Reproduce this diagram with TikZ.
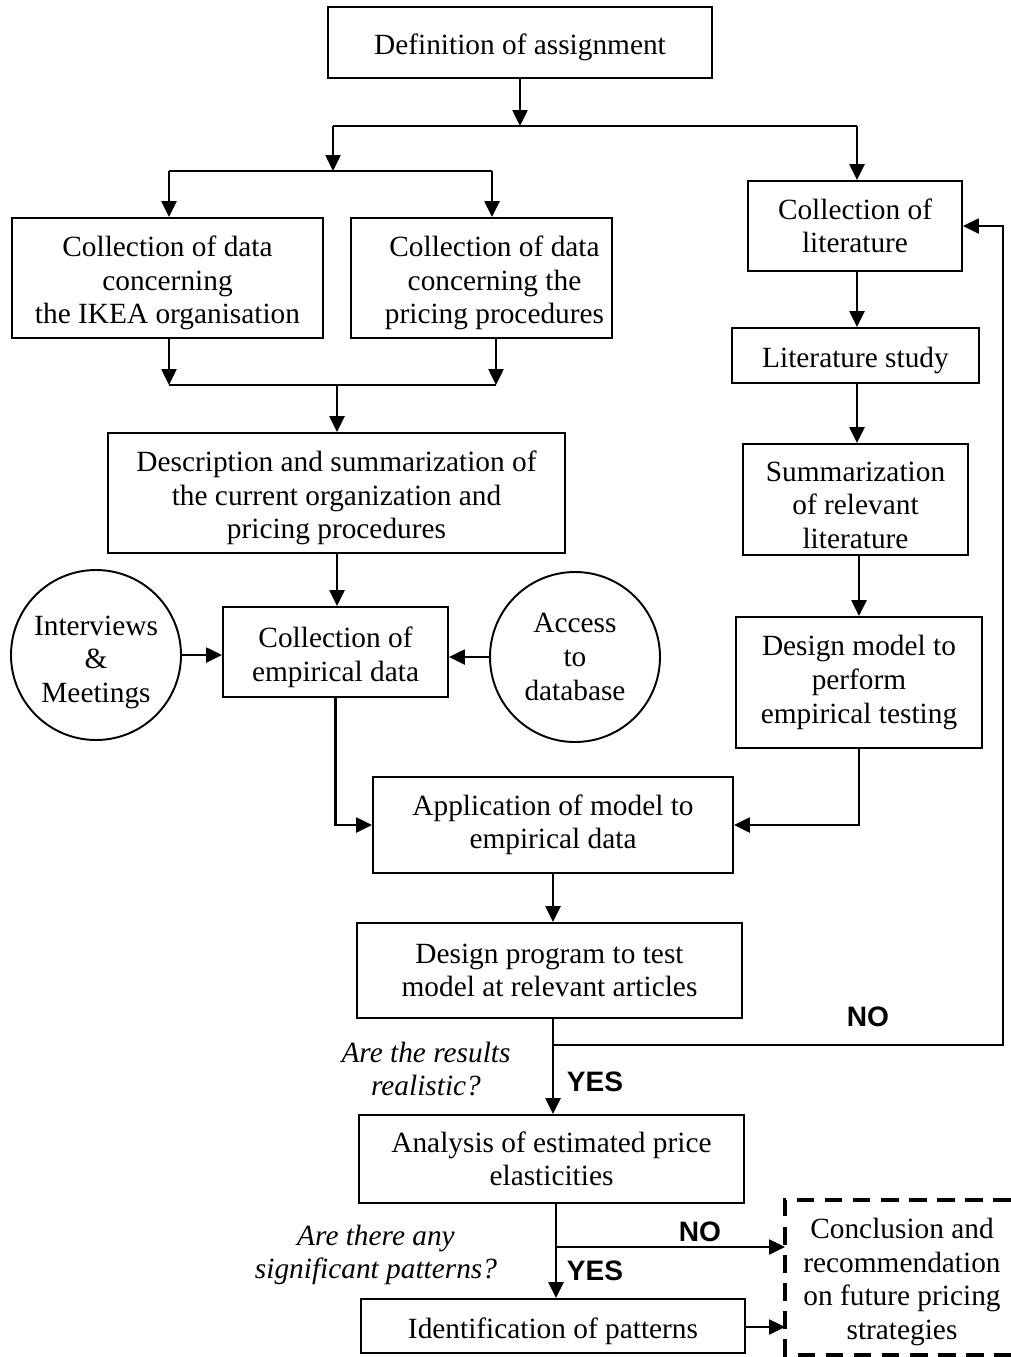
\documentclass[tikz,border=0pt]{standalone}
\usepackage{fontspec}
\setmainfont{Liberation Serif}
\newfontfamily\lsans{Liberation Sans}
\usetikzlibrary{arrows.meta}
\newcommand\tp{\rule{0pt}{17.5pt}}
\newcommand\psh{\hspace*{0.52cm}}
\begin{document}
\begin{tikzpicture}[x=0.02cm,y=-0.02cm,
  every node/.style={font=\fontsize{16.7}{19.1}\selectfont},
  bx/.style 2 args={draw, line width=1.1pt, rectangle, inner sep=0pt,
    minimum width=#1*0.02cm, minimum height=#2*0.02cm, align=center},
  circ/.style={draw, line width=1.1pt, circle, inner sep=0pt,
    minimum size=170*0.02cm, align=center},
  ln/.style={line width=1.2pt},
  arr/.style={line width=1.2pt, -{Triangle[length=9pt,width=8.5pt]}},
  dbox/.style={line width=2pt, dash pattern=on 10pt off 6pt},
  lab/.style={font=\lsans\bfseries\fontsize{16}{19}\selectfont, inner sep=0pt},
  q/.style={font=\itshape\fontsize{16.7}{19.1}\selectfont, align=center, inner sep=0pt}]
\useasboundingbox (0,0) rectangle (1011,1357);

% boxes
\node[bx={384}{71}] (def) at (520,42.5) {\tp Definition of assignment};
\node[bx={311}{120}] (ikea) at (167.5,278) {\tp Collection of data\\concerning\\the IKEA organisation};
\node[bx={261}{120}] (pric) at (481.5,278) {\tp\psh Collection of data\\\psh concerning the\\\psh pricing procedures};
\node[bx={214}{90}] (lit) at (855,226) {Collection of\\literature};
\node[bx={247}{55}] (litst) at (855.5,355.5) {\tp Literature study};
\node[bx={225}{111}] (summ) at (855.5,499.5) {\tp Summarization\\of relevant\\literature};
\node[bx={246}{131}] (dmod) at (859,682.5) {Design model to\\perform\\empirical testing};
\node[bx={457}{120}] (desc) at (336.5,493) {\tp Description and summarization of\\the current organization and\\pricing procedures};
\node[bx={225}{90}] (emp) at (335.5,652) {\tp Collection of\\empirical data};
\node[circ] (intv) at (96,655) {\rule{0pt}{19.5pt}Interviews\\\&\\Meetings};
\node[circ] (acc) at (575,657) {Access\\to\\database};
\node[bx={360}{96}] (app) at (553,825) {Application of model to\\empirical data};
\node[bx={385}{95}] (prog) at (549.5,970.5) {Design program to test\\model at relevant articles};
\node[bx={385}{88}] (ana) at (551.5,1159) {Analysis of estimated price\\elasticities};
\node[bx={384}{54}] (iden) at (553,1326) {\tp Identification of patterns};
\node[align=center, inner sep=0pt] (conc) at (902,1282) {Conclusion and\\recommendation\\on future pricing\\strategies};
\draw[dbox] (1011,1200) -- (785,1200) -- (785,1355) -- (1011,1355);

% coordinates
\coordinate (b1L) at (333,126);
\coordinate (b1R) at (857,126);
\coordinate (b2L) at (169,171);
\coordinate (b2R) at (492,171);
\coordinate (b2M) at (333,171);
\coordinate (b3L) at (169,385);
\coordinate (b3R) at (496,385);
\coordinate (b3M) at (337,385);
\coordinate (fb1) at (553,1045);
\coordinate (fb2) at (1003,1045);
\coordinate (nb1) at (556,1247);
\coordinate (nb2) at (785,1247);
\coordinate (ib2) at (785,1327);

% connectors
\draw[arr] (def.south) -- (def.south |- b1L);
\draw[ln] (b1L) -- (b1R);
\draw[arr] (b1L) -- (b2M);
\draw[ln] (b2L) -- (b2R);
\draw[arr] (b2L) -- (b2L |- ikea.north);
\draw[arr] (b2R) -- (b2R |- pric.north);
\draw[arr] (b1R) -- (b1R |- lit.north);
\draw[arr] (ikea.south -| b3L) -- (b3L);
\draw[arr] (pric.south -| b3R) -- (b3R);
\draw[ln] (b3L) -- (b3R);
\draw[arr] (b3M) -- (b3M |- desc.north);
\draw[arr] (lit.south -| b1R) -- (b1R |- litst.north);
\draw[arr] (litst.south -| b1R) -- (b1R |- summ.north);
\draw[arr] (summ.south -| dmod.north) -- (dmod.north);
\draw[arr] (b3M |- desc.south) -- (b3M |- emp.north);
\draw[arr] (intv.east) -- (intv.east -| emp.west);
\draw[arr] (acc.west) -- (acc.west -| emp.east);
\draw[arr] (emp.south) |- (app.west);
\draw[arr] (dmod.south) |- (app.east);
\draw[arr] (app.south) -- (prog.north -| app.south);
\draw[arr] (prog.south -| fb1) -- (fb1 |- ana.north);
\draw[arr] (fb1) -- (fb2) |- (lit.east);
\draw[arr] (ana.south -| nb1) -- (nb1 |- iden.north);
\draw[arr] (nb1) -- (nb2);
\draw[arr] (iden.east |- ib2) -- (ib2);

% labels
\node[lab] (no1) at (868,1017) {NO};
\node[lab] (yes1) at (595,1082) {YES};
\node[lab] (no2) at (700,1232) {NO};
\node[lab] (yes2) at (595,1271) {YES};
\node[q] (q1) at (426,1069) {Are the results\\realistic?};
\node[q] (q2) at (376,1255) {Are there any\\significant patterns?};
\end{tikzpicture}
\end{document}
